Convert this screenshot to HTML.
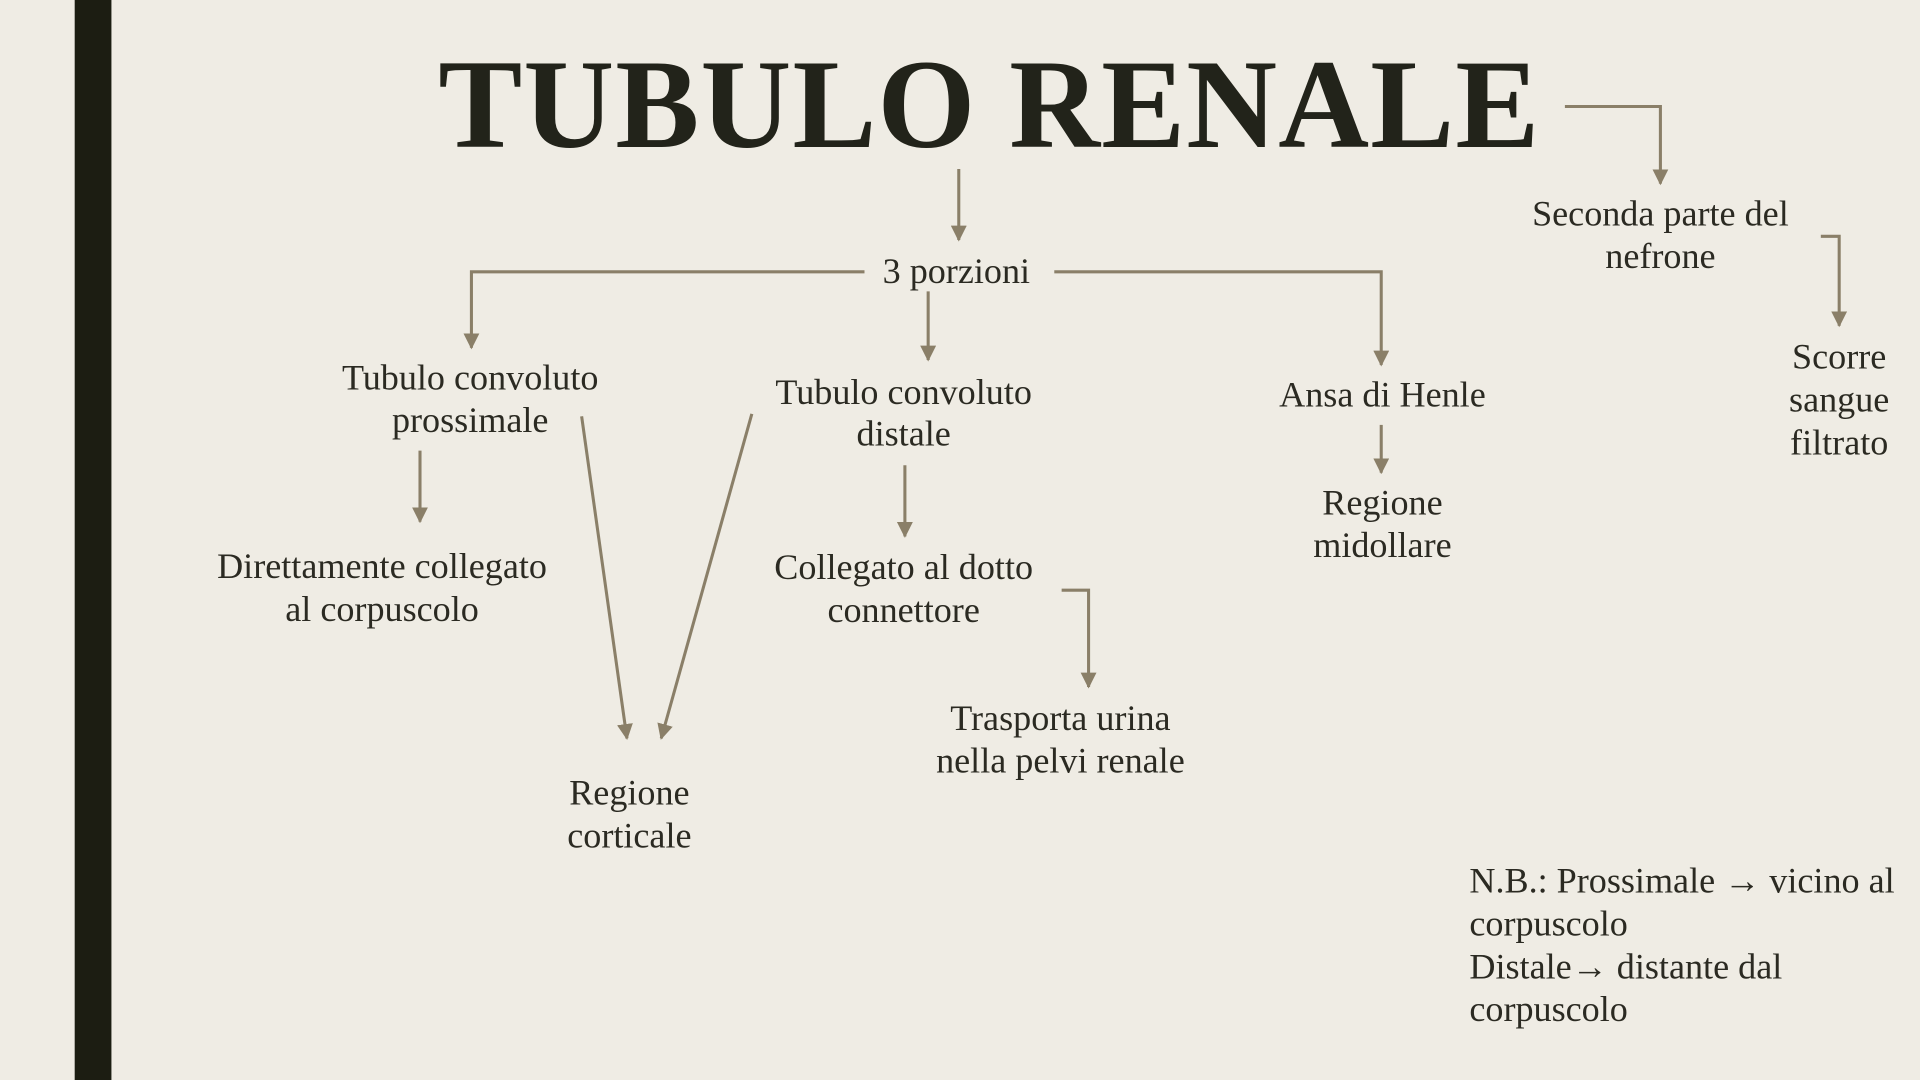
<!DOCTYPE html>
<html><head><meta charset="utf-8"><style>
html,body{margin:0;padding:0;background:#efece4;}
svg{display:block;}
text{font-family:"Liberation Serif",serif;fill:#2b2a22;font-size:29.5px;}
</style></head><body>
<svg width="1920" height="1080" viewBox="0 0 1568 882" preserveAspectRatio="none" xmlns="http://www.w3.org/2000/svg">
<defs>
<marker id="b" viewBox="0 0 10 10" markerWidth="13" markerHeight="13" refX="9" refY="5" orient="auto" markerUnits="userSpaceOnUse"><path d="M0,0 L10,5 L0,10 z" fill="#8a7f68"/></marker></defs>
<rect width="1568" height="882" fill="#efece4"/>
<rect x="61" y="0" width="30" height="882" fill="#1c1d12"/>
<text x="358" y="120" font-weight="bold" textLength="900" lengthAdjust="spacingAndGlyphs" style="font-size:104px;fill:#22231a;letter-spacing:1px">TUBULO RENALE</text>
<g stroke="#8a7f68" stroke-width="2.5" fill="none" marker-end="url(#b)">
<path d="M783,138 V196"/>
<path d="M706,222 H385 V284"/>
<path d="M861,222 H1128 V298"/>
<path d="M758,238 V294"/>
<path d="M1278,87 H1356 V150"/>
<path d="M1487,193 H1502 V266"/>
<path d="M343,368 V426"/>
<path d="M475,340 L512,603"/>
<path d="M614,338 L540,603"/>
<path d="M739,380 V438"/>
<path d="M867,482 H889 V561"/>
<path d="M1128,347 V386"/>
</g>
<g text-anchor="middle">
<text x="781" y="231">3 porzioni</text>
<text x="384" y="318">Tubulo convoluto</text><text x="384" y="353">prossimale</text>
<text x="738" y="330">Tubulo convoluto</text><text x="738" y="364">distale</text>
<text x="1129" y="332">Ansa di Henle</text>
<text x="1129" y="420">Regione</text><text x="1129" y="455">midollare</text>
<text x="312" y="472">Direttamente collegato</text><text x="312" y="507">al corpuscolo</text>
<text x="738" y="473">Collegato al dotto</text><text x="738" y="508">connettore</text>
<text x="866" y="596">Trasporta urina</text><text x="866" y="631">nella pelvi renale</text>
<text x="514" y="657">Regione</text><text x="514" y="692">corticale</text>
<text x="1356" y="184">Seconda parte del</text><text x="1356" y="219">nefrone</text>
<text x="1502" y="301">Scorre</text><text x="1502" y="336">sangue</text><text x="1502" y="371">filtrato</text>
</g>
<text x="1200" y="729">N.B.: Prossimale <tspan font-weight="bold">→</tspan> vicino al</text>
<text x="1200" y="764">corpuscolo</text>
<text x="1200" y="799">Distale<tspan font-weight="bold">→</tspan> distante dal</text>
<text x="1200" y="834">corpuscolo</text>
</svg>
</body></html>
